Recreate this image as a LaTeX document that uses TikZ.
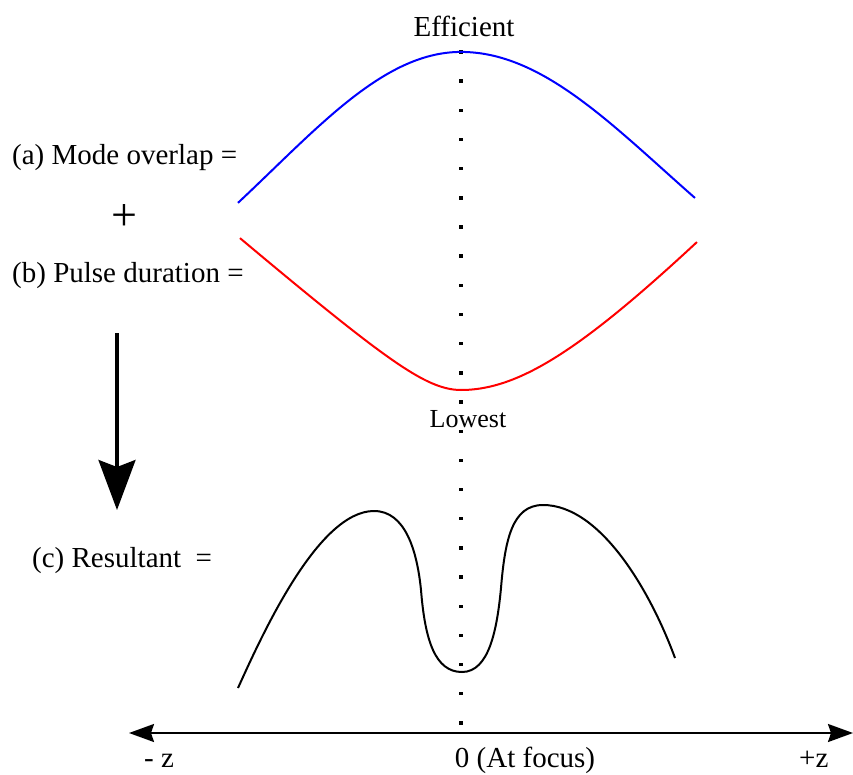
\documentclass[tikz,border=0pt]{standalone}
\usepackage{fontspec}
\setmainfont{Liberation Serif}
\usetikzlibrary{arrows.meta}

\begin{document}
\begin{tikzpicture}[x=1pt, y=-1pt, >=Stealth]
  % --- STYLE DEFINITIONS ---
  \tikzstyle{labeltext}=[inner sep=0pt, font=\fontsize{29}{35}\selectfont]
  \tikzstyle{smalltext}=[inner sep=0pt, font=\fontsize{26}{31}\selectfont]
  \tikzstyle{plustext}=[inner sep=0pt, font=\fontsize{46}{50}\selectfont]
  \tikzstyle{curve}=[line width=2pt, line join=round]
  \tikzstyle{focusdot}=[fill=black]

  \useasboundingbox (0,0) rectangle (853,775);

  % =================================================================
  % FOCUS LINE (dotted, z = 0)
  % =================================================================
  \foreach \i in {0,...,23}
    \fill[focusdot] (459.3, {50.3+29.17*\i}) rectangle ++(3.4,3.4);

  % =================================================================
  % (a) MODE OVERLAP
  % =================================================================
  \node[labeltext, anchor=base west] (modelbl) at (12,165) {(a) Mode overlap =};
  \node[labeltext, anchor=base] (efflbl) at (464,37) {Efficient};
  \draw[curve, blue, domain=-2.23:0, samples=60, variable=\t]
    plot ({461+100*\t}, {52+300*(1-exp(-(\t)^2/7.1142))});
  \draw[curve, blue, domain=0:2.34, samples=60, variable=\t]
    plot ({461+100*\t}, {52+300*(1-exp(-(\t)^2/8.2093))});

  \node[plustext] (pluslbl) at (124,218) {+};

  % =================================================================
  % (b) PULSE DURATION
  % =================================================================
  \node[labeltext, anchor=base west] (pulselbl) at (12,283) {(b) Pulse duration =};
  \node[smalltext, anchor=base] (lowlbl) at (468,427) {Lowest};
  \draw[curve, red, domain=-2.21:0, samples=60, variable=\t]
    plot ({461+100*\t}, {390-43*(sqrt(1+(\t/0.5)^2)-1)});
  \draw[curve, red, domain=0:2.36, samples=60, variable=\t]
    plot ({461+100*\t}, {390-138*(sqrt(1+(\t/1.3)^2)-1)});

  % down arrow
  \coordinate (flowtop) at (117,333);
  \coordinate (flowtip) at (117,510);
  \draw[line width=3.3pt, -{Stealth[length=50pt, width=37pt, inset=7pt]}] (flowtop) -- (flowtip);

  % =================================================================
  % (c) RESULTANT
  % =================================================================
  \node[labeltext, anchor=base west] (reslbl) at (32,567) {(c) Resultant\ \ =};
  % two humps, dip at the focus
  \draw[curve, black] (238,688)
    .. controls (262,635) and (318,511) .. (374,511)
    .. controls (405,511) and (417,550) .. (421,590)
    .. controls (425,640) and (435,672) .. (462,672)
    .. controls (489,672) and (497,630) .. (501,588)
    .. controls (505,540) and (512,505) .. (543,505)
    .. controls (600,505) and (650,590) .. (675,658);

  % =================================================================
  % Z AXIS
  % =================================================================
  \coordinate (axisL) at (129,733);
  \coordinate (axisR) at (853,733);
  \draw[line width=2pt, {Stealth[length=25pt, width=18pt, inset=3pt]}-{Stealth[length=25pt, width=18pt, inset=3pt]}] (axisL) -- (axisR);
  \node[labeltext, anchor=base west] (zneg) at (144,767) {- z};
  \node[labeltext, anchor=base] (zzero) at (525,767) {0 (At focus)};
  \node[labeltext, anchor=base west] (zpos) at (799,767) {+z};

\end{tikzpicture}
\end{document}
